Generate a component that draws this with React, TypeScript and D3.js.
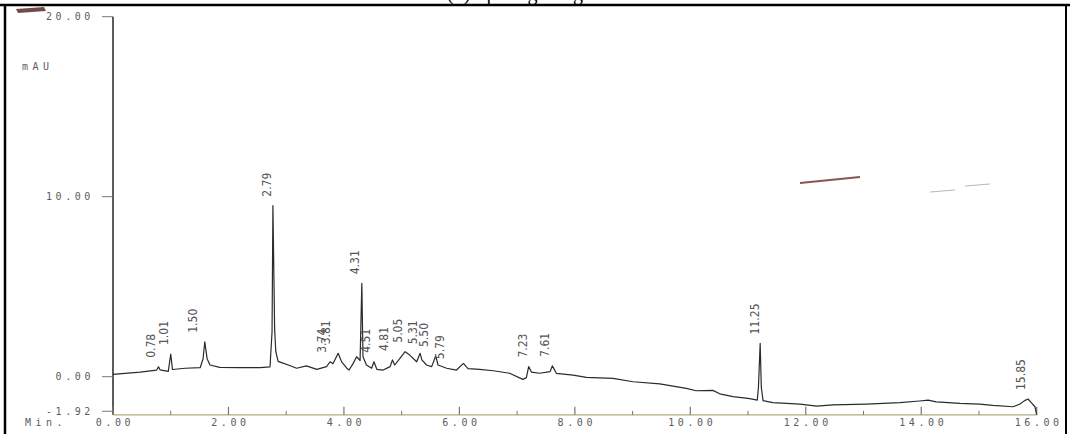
import React from "react";
import * as d3 from "d3";

// ---- data ----
const traceTime = [
  0, 0.47, 0.757, 0.788, 0.814, 0.958, 1.0, 1.03, 1.25, 1.51, 1.56, 1.59, 1.63, 1.68, 1.85, 2.2, 2.55, 2.72,
  2.755, 2.77, 2.8, 2.82, 2.86, 2.92, 3.06, 3.18, 3.35, 3.53, 3.7, 3.76, 3.81, 3.9, 3.96, 4.05, 4.09, 4.16,
  4.22, 4.28, 4.31, 4.33, 4.39, 4.48, 4.52, 4.57, 4.68, 4.8, 4.84, 4.88, 4.97, 5.06, 5.14, 5.26, 5.32, 5.35,
  5.43, 5.52, 5.59, 5.63, 5.78, 5.95, 6.07, 6.15, 6.35, 6.59, 6.87, 7.1, 7.16, 7.2, 7.25, 7.39, 7.57, 7.61,
  7.68, 7.97, 8.2, 8.66, 9.01, 9.47, 9.93, 10.1, 10.39, 10.51, 10.74, 11.03, 11.16, 11.18, 11.21, 11.23,
  11.26, 11.43, 11.9, 12.19, 12.47, 13.05, 13.63, 13.97, 14.12, 14.26, 14.67, 15.01, 15.24, 15.59, 15.71,
  15.79, 15.85, 15.91, 15.97, 16.0,
];
const traceMAU = [
  0.13, 0.25, 0.37, 0.55, 0.38, 0.3, 1.26, 0.4, 0.47, 0.5, 1.0, 1.94, 1.0, 0.65, 0.52, 0.5, 0.5, 0.55,
  2.5, 9.5, 2.6, 1.4, 0.85, 0.78, 0.62, 0.47, 0.6, 0.41, 0.56, 0.83, 0.72, 1.3, 0.83, 0.47, 0.37, 0.74,
  1.11, 0.9, 5.19, 1.11, 0.65, 0.47, 0.83, 0.41, 0.37, 0.56, 0.93, 0.65, 1.02, 1.39, 1.2, 0.83, 1.3, 0.93,
  0.65, 0.56, 1.15, 0.65, 0.47, 0.37, 0.74, 0.45, 0.41, 0.33, 0.19, -0.15, -0.05, 0.56, 0.25, 0.19, 0.28, 0.6,
  0.19, 0.09, -0.04, -0.09, -0.28, -0.4, -0.65, -0.78, -0.76, -0.95, -1.11, -1.22, -1.3, -0.6, 1.85, -0.6,
  -1.33, -1.44, -1.52, -1.63, -1.57, -1.52, -1.44, -1.35, -1.3, -1.4, -1.48, -1.52, -1.59, -1.67, -1.52,
  -1.33, -1.24, -1.45, -1.67, -2.12,
];
const peakLabels = [
  "0.78", "1.01", "1.50", "2.79", "3.74", "3.81", "4.31", "4.51", "4.81", "5.05", "5.31", "5.50", "5.79",
  "7.23", "7.61", "11.25", "15.85",
];
const yTickValues = [20, 10, 0, -1.92];
const yTickLabels = ["20.00", "10.00", "0.00", "-1.92"];
const xMajorTicks = [0, 2, 4, 6, 8, 10, 12, 14, 16];
const xMajorLabels = ["0.00", "2.00", "4.00", "6.00", "8.00", "10.00", "12.00", "14.00", "16.00"];
const xMinorTicks = [1, 3, 5, 7, 9, 11, 13, 15];
const yUnit = "mAU";
const xUnit = "Min.";

const W = 1070;
const H = 434;

export default function App() {
  const x = d3.scaleLinear().domain([0, 16]).range([113, 1036.7]);
  const y = d3.scaleLinear().domain([0, 20]).range([376.7, 16.7]);
  const axisY = y(-2.12);

  const pts: [number, number][] = traceTime.map((t, i) => [t, traceMAU[i]]);
  const line = d3
    .line<[number, number]>()
    .x((d) => x(d[0]))
    .y((d) => y(d[1]))
    .curve(d3.curveLinear);

  const labelTop = (t: number) => {
    const near = pts.filter((p) => Math.abs(p[0] - t) <= 0.1);
    const m = d3.max(near, (p) => p[1]) ?? 0;
    return y(m) - 9;
  };

  const axisFont = "'DejaVu Sans Mono', 'Liberation Mono', monospace";
  const axisColor = "#5c5c5c";

  return (
    <svg
      width={W}
      height={H}
      style={{ position: "absolute", left: 0, top: 0, background: "#fff" }}
      xmlns="http://www.w3.org/2000/svg"
    >
      <rect x={0} y={0} width={W} height={H} fill="#fff" />
      {/* caption above the frame, cut by the page edge as in the scan */}
      <text x={447} y={-0.5} fontFamily="'Liberation Serif', serif" fontSize={20} fill="#000">
        (b) Spiking 1 mg
      </text>
      {/* frame */}
      <line x1={0} x2={W} y1={5} y2={5} stroke="#000" strokeWidth={2.5} />
      <line x1={5} x2={5} y1={4} y2={H} stroke="#000" strokeWidth={2.5} />
      <line x1={1066} x2={1066} y1={4} y2={H} stroke="#000" strokeWidth={2} />
      {/* scan smudges */}
      <path d="M16,9 L44,7 L46,11 L18,13 Z" fill="#5a2a2a" opacity={0.85} />
      <path d="M800,183 L860,177" stroke="#6a2a2a" strokeWidth={2} opacity={0.8} />
      <path d="M930,192 L955,190 M965,186 L990,184" stroke="#888" strokeWidth={1} opacity={0.6} />

      {/* y axis */}
      <line x1={113} x2={113} y1={y(20)} y2={axisY} stroke="#333" strokeWidth={1.6} />
      {yTickValues.map((v, i) => (
        <g key={"yt" + i}>
          <line x1={102} x2={113} y1={y(v)} y2={y(v)} stroke="#777" strokeWidth={1} />
          <text
            x={94}
            y={y(v) + 3.5}
            textAnchor="end"
            fontFamily={axisFont}
            fontSize={10}
            letterSpacing={3.6}
            fill={axisColor}
          >
            {yTickLabels[i]}
          </text>
        </g>
      ))}
      <text x={22} y={70} fontFamily={axisFont} fontSize={10} letterSpacing={4.5} fill={axisColor}>
        {yUnit}
      </text>

      {/* x axis */}
      <line x1={113} x2={1036.7} y1={axisY} y2={axisY} stroke="#b4aa7c" strokeWidth={1.3} />
      {xMajorTicks.map((t, i) => (
        <g key={"xt" + i}>
          <line x1={x(t)} x2={x(t)} y1={axisY} y2={axisY - 8} stroke="#777" strokeWidth={1.2} />
          <text
            x={x(t) + 2}
            y={axisY + 11}
            textAnchor="middle"
            fontFamily={axisFont}
            fontSize={10}
            letterSpacing={3.6}
            fill={axisColor}
          >
            {xMajorLabels[i]}
          </text>
        </g>
      ))}
      {xMinorTicks.map((t, i) => (
        <line key={"xm" + i} x1={x(t)} x2={x(t)} y1={axisY} y2={axisY - 4} stroke="#777" strokeWidth={1} />
      ))}
      <text x={25} y={axisY + 11} fontFamily={axisFont} fontSize={10} letterSpacing={4.5} fill={axisColor}>
        {xUnit}
      </text>

      {/* trace */}
      <path d={line(pts) ?? ""} fill="none" stroke="#2a2a2a" strokeWidth={1.2} strokeLinejoin="round" />

      {/* peak labels */}
      {peakLabels.map((lab) => {
        const t = parseFloat(lab);
        const lx = x(t) - 3;
        const ly = labelTop(t);
        return (
          <text
            key={"pl" + lab}
            transform={`translate(${lx},${ly}) rotate(-90)`}
            fontFamily="'Liberation Sans Narrow', 'DejaVu Sans Condensed', 'Liberation Sans', sans-serif"
            fontSize={12}
            fill="#555"
          >
            {lab}
          </text>
        );
      })}
    </svg>
  );
}
